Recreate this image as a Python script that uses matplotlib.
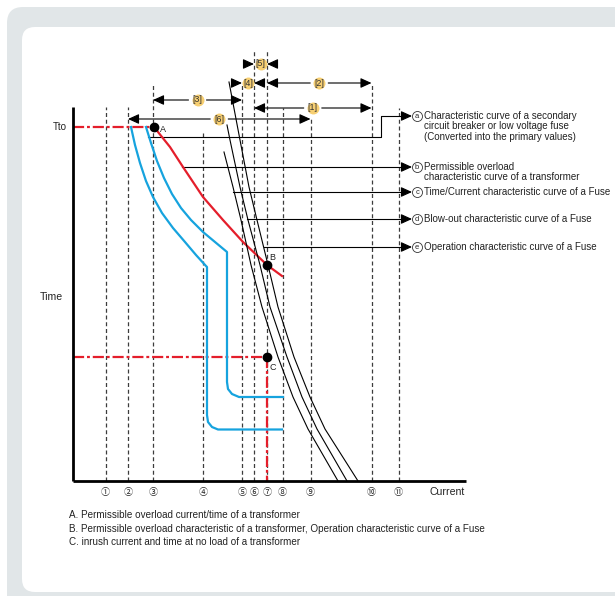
import matplotlib
matplotlib.use("Agg")
import matplotlib.pyplot as plt
from matplotlib.patches import FancyBboxPatch

# ---------------- data (plot units: current to the right, time upward) ----------------
current_marks = ["①", "②", "③", "④", "⑤", "⑥", "⑦", "⑧", "⑨", "⑩", "⑪"]
current_x = [32.5, 55, 80, 130, 169, 181, 194, 209.5, 237.5, 298.5, 325.5]
mark_top = [374, 374, 398, 348, 398, 431, 431, 373, 364, 398, 373]

span_labels = ["[1]", "[2]", "[3]", "[4]", "[5]", "[6]"]
span_from = [5, 6, 2, 4, 5, 1]
span_to = [9, 9, 4, 5, 6, 8]
span_y = [373, 398, 381, 398, 417, 362]
span_kind = ["out", "out", "out", "in", "in", "out"]

# secondary breaker band (blue)
breaker_hi_x = [73, 78, 84, 91, 99, 108, 118, 130, 142, 154, 154, 155, 159, 166, 210]
breaker_hi_y = [354, 338, 320, 303, 287, 273, 261, 249, 239, 229, 99, 92, 87, 84, 84]
breaker_lo_x = [58, 62, 67, 73, 80, 89, 100, 112, 123, 133, 134, 134, 135, 139, 145, 209]
breaker_lo_y = [354, 336, 318, 300, 284, 268, 253, 239, 226, 215, 214, 66, 59, 54, 51.5, 51.5]

# transformer permissible overload (red)
overload_x = [81, 97, 110, 130, 150, 170, 194, 209]
overload_y = [354, 334, 314, 284, 261, 239, 216, 205]

# fuse curves (black)
fuse_tc_x = [151, 160, 168, 178, 189, 205, 220, 235, 265]
fuse_tc_y = [329, 294, 261, 216, 174, 124, 84, 52, 0]
fuse_blow_x = [154, 157, 167, 175, 187, 197, 214, 229, 244, 274]
fuse_blow_y = [356, 341, 294, 261, 216, 174, 124, 84, 52, 0]
fuse_op_x = [156, 167, 176, 184, 195, 205, 221, 237, 252, 285]
fuse_op_y = [399, 341, 294, 261, 216, 174, 124, 84, 52, 0]

t_to = 354
point_names = ["A", "B", "C"]
point_x = [81, 194, 194]
point_y = [354, 216, 124]

leader_letters = ["a", "b", "c", "d", "e"]
leader_start_x = [75, 109, 160, 174, 191]
leader_y = [344, 314, 289, 262, 234]
label_y = [365, 314, 289, 262, 234]
label_lines = [
    ["Characteristic curve of a secondary", "circuit breaker or low voltage fuse",
     "(Converted into the primary values)"],
    ["Permissible overload", "characteristic curve of a transformer"],
    ["Time/Current characteristic curve of a Fuse"],
    ["Blow-out characteristic curve of a Fuse"],
    ["Operation characteristic curve of a Fuse"],
]

notes = [
    "A. Permissible overload current/time of a transformer",
    "B. Permissible overload characteristic of a transformer, Operation characteristic curve of a Fuse",
    "C. inrush current and time at no load of a transformer",
]

# ---------------- figure ----------------
W, H = 615, 596
X0, Y0 = 73, 481  # origin in pixels
fig = plt.figure(figsize=(W / 100, H / 100), dpi=100)
ax = fig.add_axes([0, 0, 1, 1])
ax.set_xlim(-X0, W - X0)
ax.set_ylim(Y0 - H, Y0)
ax.axis("off")

TXT = ["Liberation Sans", "DejaVu Sans"]
SYM = ["Noto Sans CJK JP", "DejaVu Sans"]

# background panels
ax.add_patch(FancyBboxPatch((-66, -160), 700, 634, boxstyle="round,pad=0,rounding_size=16",
                            fc="#e1e6e8", ec="none", zorder=0))
ax.add_patch(FancyBboxPatch((-51, -111), 700, 565, boxstyle="round,pad=0,rounding_size=13",
                            fc="white", ec="none", zorder=0.5))

# vertical dashed current markers
for x, top in zip(current_x, mark_top):
    ax.plot([x, x], [0, top], color="#3c3c3c", lw=0.9, dashes=(3.2, 2.2), zorder=1)

# axes
ax.plot([0, 0], [0, 374], color="black", lw=2.0, solid_capstyle="butt", zorder=5)
ax.plot([0, 393], [0, 0], color="black", lw=2.0, solid_capstyle="butt", zorder=5)

for lab, x in zip(current_marks, current_x):
    ax.text(x, -11, lab, ha="center", va="center", fontsize=6.5, family=SYM, color="#222")
ax.text(357, -11, "Current", ha="left", va="center", fontsize=7.6, family=TXT, color="#222")
ax.text(-10, 184, "Time", ha="right", va="center", fontsize=7.6, family=TXT, color="#222")
ax.text(-6, t_to, "Tto", ha="right", va="center", fontsize=7.0, family=TXT, color="#222")

RED = "#e41e2b"
BLUE = "#16a3de"
dashdot = (5.0, 1.3, 1.3, 1.3)

# dash-dot guide lines
ax.plot([0, point_x[0]], [t_to, t_to], color=RED, lw=1.6, dashes=dashdot, zorder=3)
ax.plot([0, point_x[2]], [point_y[2], point_y[2]], color=RED, lw=1.6, dashes=dashdot, zorder=3)
ax.plot([point_x[2], point_x[2]], [point_y[2], 0], color=RED, lw=1.6, dashes=dashdot, zorder=3)

# curves
ax.plot(breaker_lo_x, breaker_lo_y, color=BLUE, lw=1.6, zorder=3, solid_joinstyle="round")
ax.plot(breaker_hi_x, breaker_hi_y, color=BLUE, lw=1.6, zorder=3, solid_joinstyle="round")
ax.plot(overload_x, overload_y, color=RED, lw=1.6, zorder=3, solid_joinstyle="round")
for fx, fy in [(fuse_tc_x, fuse_tc_y), (fuse_blow_x, fuse_blow_y), (fuse_op_x, fuse_op_y)]:
    ax.plot(fx, fy, color="black", lw=0.8, zorder=3, solid_joinstyle="round")

# points
ax.plot(point_x, point_y, "o", color="black", ms=6, zorder=6)
label_off = [(6, -3), (2, 7), (2, -11)]
for n, x, y, (dx, dy) in zip(point_names, point_x, point_y, label_off):
    ax.text(x + dx, y + dy, n, ha="left", va="center", fontsize=6.5, family=TXT, color="#222")

# leaders
TIP = 339
arrow_kw = dict(arrowstyle="-|>,head_length=0.55,head_width=0.25", color="black",
                lw=0.8, shrinkA=0, shrinkB=0, mutation_scale=12)
for i, (sx, ly, ty) in enumerate(zip(leader_start_x, leader_y, label_y)):
    if ly != ty:
        bend = 308
        ax.plot([sx, bend, bend, TIP - 8], [ly, ly, ty, ty], color="black", lw=0.8, zorder=2)
    else:
        ax.plot([sx, TIP - 8], [ly, ly], color="black", lw=0.8, zorder=2)
    ax.annotate("", xy=(TIP, ty), xytext=(TIP - 10, ty), arrowprops=arrow_kw)
    ax.plot([TIP + 5], [ty], "o", ms=7.2, mfc="white", mec="#333", mew=0.6, zorder=4)
    ax.text(TIP + 5, ty - 0.3, leader_letters[i], ha="center", va="center", fontsize=5.4,
            family=TXT, color="#222", zorder=5)
    for k, line in enumerate(label_lines[i]):
        ax.text(TIP + 12.5, ty - k * 10.3, line, ha="left", va="center",
                fontsize=7.0, family=TXT, color="#222")

# dimension spans
YEL = "#f7cf72"
for lab, a, b, y, kind in zip(span_labels, span_from, span_to, span_y, span_kind):
    xa, xb = current_x[a], current_x[b]
    xm = (xa + xb) / 2
    if kind == "out":
        ax.annotate("", xy=(xa, y), xytext=(xm - 9, y), arrowprops=arrow_kw)
        ax.annotate("", xy=(xb, y), xytext=(xm + 9, y), arrowprops=arrow_kw)
    else:
        ax.annotate("", xy=(xa, y), xytext=(xa - 8, y), arrowprops=arrow_kw)
        ax.annotate("", xy=(xb, y), xytext=(xb + 8, y), arrowprops=arrow_kw)
    ax.plot([xm], [y], "o", ms=8.6, mfc=YEL, mec="none", zorder=4)
    ax.text(xm, y, lab, ha="center", va="center", fontsize=6.3, family=TXT, color="#333", zorder=5)

# notes
for k, line in enumerate(notes):
    ax.text(-4, -34 - k * 13.5, line, ha="left", va="center", fontsize=7.1, family=TXT, color="#222")

fig.savefig("out.png", dpi=100)
